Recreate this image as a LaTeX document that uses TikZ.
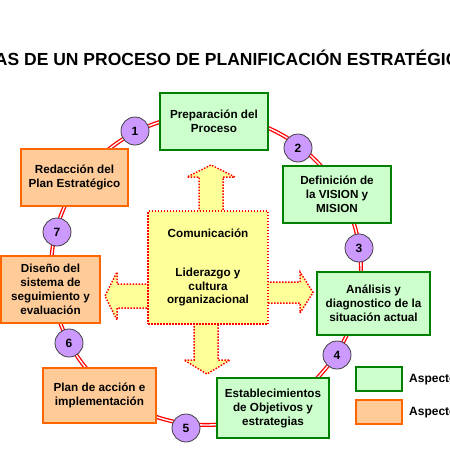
\documentclass[tikz,border=0pt]{standalone}
\usepackage{fontspec}
\setmainfont{Liberation Sans}
\definecolor{gborder}{HTML}{008000}
\definecolor{gfill}{HTML}{CCFFCC}
\definecolor{oborder}{HTML}{FF6600}
\definecolor{ofill}{HTML}{FFCC99}
\definecolor{cfill}{HTML}{CC99FF}
\definecolor{cborder}{HTML}{404040}
\definecolor{yfill}{HTML}{FFFF99}
\definecolor{ringred}{HTML}{FF0000}
\begin{document}
\begin{tikzpicture}[x=1pt,y=-1pt,
  boxg/.style={draw=gborder, fill=gfill, line width=2pt, align=center, inner sep=0pt,
    font=\bfseries\fontsize{11.7}{14}\selectfont},
  boxo/.style={draw=oborder, fill=ofill, line width=2pt, align=center, inner sep=0pt,
    font=\bfseries\fontsize{11.7}{14}\selectfont},
  numc/.style={circle, draw=cborder, fill=cfill, line width=0.8pt, minimum size=28pt,
    inner sep=0pt, font=\bfseries\fontsize{12}{14}\selectfont},
  ring/.style={draw=ringred, line width=1.3pt, double=white, double distance=1.4pt},
  yel/.style={fill=yfill, draw=ringred, line width=1.5pt, dash pattern=on 1.5pt off 1.5pt},
  lgtext/.style={anchor=base west, inner sep=0pt, font=\bfseries\fontsize{12}{14}\selectfont}
]
\clip (0,0) rectangle (450,450);
\fill[white] (0,0) rectangle (450,450);

% title
\node[anchor=base west, inner sep=0pt, font=\bfseries\fontsize{17.5}{20}\selectfont] (title) at (-49.3,65)
  {ETAPAS DE UN PROCESO DE PLANIFICACIÓN ESTRATÉGICA};

% ring
\coordinate (ctr) at (206,270);
\draw[ring] (ctr) circle[radius=155];

% block arrows
\draw[yel] (199,212) -- (199,177) -- (187,177) -- (211,165) -- (235,177) -- (223,177) -- (223,212) -- cycle;
\draw[yel] (267,282) -- (300,282) -- (300,272) -- (313,292.5) -- (300,313) -- (300,303) -- (267,303) -- cycle;
\draw[yel] (149,284) -- (117,284) -- (117,272) -- (105,296) -- (117,320) -- (117,308) -- (149,308) -- cycle;
\draw[yel] (194,323) -- (194,360) -- (184,360) -- (207,374) -- (230,360) -- (218,360) -- (218,323) -- cycle;

% central box
\node[yel, minimum width=120pt, minimum height=113pt, inner sep=0pt, align=center,
  font=\bfseries\fontsize{11.7}{13.3}\selectfont] (center) at (208,267.5)
  {Comunicación\\[26pt]Liderazgo y\\cultura\\organizacional};

% process boxes
\node[boxg, minimum width=108pt, minimum height=57pt] (prep) at (214,121.5) {Preparación del\\Proceso};
\node[boxg, minimum width=108pt, minimum height=57pt] (defin) at (337,194.5) {Definición de\\la VISION y\\MISION};
\node[boxg, minimum width=113pt, minimum height=63pt] (anal) at (373.5,303.5) {Análisis y\\diagnostico de la\\situación actual};
\node[boxg, minimum width=112pt, minimum height=60pt] (estab) at (273,408) {Establecimientos\\de Objetivos y\\estrategias};
\node[boxo, minimum width=113pt, minimum height=55pt] (plan) at (99.5,395.5) {Plan de acción e\\implementación};
\node[boxo, minimum width=99pt, minimum height=67pt] (diseno) at (50.5,289.5) {Diseño del\\sistema de\\seguimiento y\\evaluación};
\node[boxo, minimum width=107pt, minimum height=57pt] (redac) at (74.5,177.5) {Redacción del\\Plan Estratégico};

% numbered circles
\node[numc] (c1) at (135,131) {1};
\node[numc] (c2) at (298,148) {2};
\node[numc] (c3) at (359,248) {3};
\node[numc] (c4) at (337,355) {4};
\node[numc] (c5) at (186,428) {5};
\node[numc] (c6) at (69,343) {6};
\node[numc] (c7) at (57,232) {7};

% legend
\node[boxg, minimum width=46pt, minimum height=24pt] (lg) at (379,379) {};
\node[boxo, minimum width=46pt, minimum height=24pt] (lo) at (379,412) {};
\node[lgtext] (lgt) at (409,382) {Aspectos};
\node[lgtext] (lot) at (409,415) {Aspectos};
\end{tikzpicture}
\end{document}
